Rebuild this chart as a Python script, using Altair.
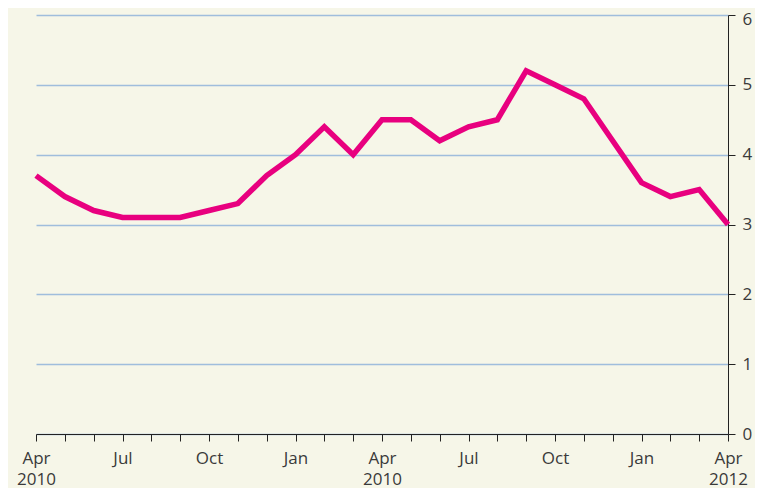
import altair as alt
import pandas as pd
import json

month_index = list(range(25))
values = [3.7, 3.4, 3.2, 3.1, 3.1, 3.1, 3.2, 3.3, 3.7, 4.0, 4.4, 4.0, 4.5,
          4.5, 4.2, 4.4, 4.5, 5.2, 5.0, 4.8, 4.2, 3.6, 3.4, 3.5, 3.0]
tick_labels = [["Apr", "2010"], "", "", "Jul", "", "", "Oct", "", "", "Jan", "", "",
               ["Apr", "2010"], "", "", "Jul", "", "", "Oct", "", "", "Jan", "", "",
               ["Apr", "2012"]]
y_ticks = [0, 1, 2, 3, 4, 5, 6]

df = pd.DataFrame({"m": month_index, "v": values})

label_expr = json.dumps(tick_labels) + "[datum.value]"

FONT = "Open Sans"

chart = alt.Chart(df).mark_line(color="#e8007f", strokeWidth=5.5).encode(
    x=alt.X("m:Q",
            scale=alt.Scale(domain=[0, 24], nice=False, zero=False),
            axis=alt.Axis(values=month_index, labelExpr=label_expr, title=None,
                          grid=False, domainColor="#222222", tickColor="#222222",
                          tickSize=7, labelFontSize=17, labelColor="#3a3a3a",
                          labelFont=FONT, labelPadding=9, labelFlush=False,
                          labelOverlap=False, labelAngle=0, labelLineHeight=21)),
    y=alt.Y("v:Q",
            scale=alt.Scale(domain=[0, 6], nice=False),
            axis=alt.Axis(orient="right", values=y_ticks, title=None, grid=True,
                          gridColor="#9fbddc", gridWidth=1.3,
                          domainColor="#222222", tickColor="#222222", tickSize=7,
                          labelFontSize=17, labelColor="#3a3a3a", labelFont=FONT,
                          labelPadding=7, labelFlush=False,
                          labelOffset={"condition": {"test": "datum.value == 6", "value": 4}, "value": 0})),
).properties(
    width=692,
    height=419,
    background="#f6f6e8",
    padding={"left": 28, "top": 7, "right": 27, "bottom": 54},
    autosize=alt.AutoSizeParams(type="none"),
).configure_view(stroke=None)

chart.save("out.html", embed_options={"renderer": "svg", "actions": False})
